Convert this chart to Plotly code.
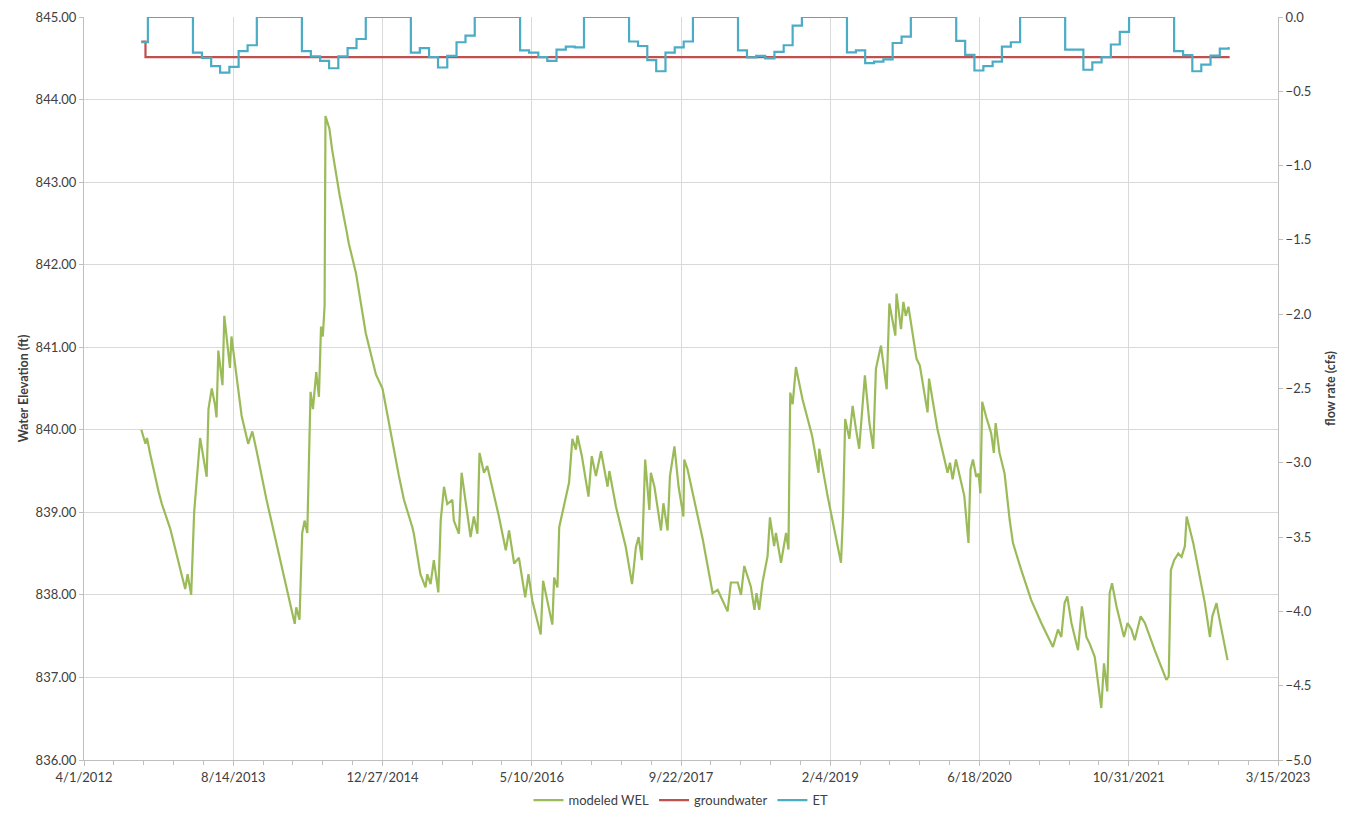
import pandas as pd
import plotly.graph_objects as go

# ---------------- data ----------------
BASE_DATE = "2012-04-01"  # day offsets below are days since this date

# modeled WEL (ft): day offset, elevation
wel_day = [192, 206, 211, 222, 250, 261, 289, 339, 347, 359,
           369, 378, 389, 411, 417, 428, 439, 444, 450, 464,
           470, 489, 494, 528, 550, 564, 578, 611, 689, 706,
           711, 722, 731, 739, 748, 759, 767, 778, 787, 794,
           800, 806, 809, 822, 831, 856, 880, 887, 911, 918,
           944, 978, 1000,
           1055, 1072, 1100, 1105, 1127, 1144, 1150, 1161, 1172, 1187,
           1195, 1206, 1217, 1234, 1239, 1256, 1265, 1279, 1295, 1306,
           1318, 1325, 1340, 1351, 1368, 1390, 1413, 1424, 1441, 1457,
           1478, 1489, 1502, 1530, 1538, 1556, 1569, 1575, 1586, 1592,
           1609, 1625, 1636, 1648, 1653, 1668, 1690, 1701, 1715, 1732,
           1754, 1760, 1782, 1815, 1836, 1849, 1858, 1869, 1880, 1894,
           1899, 1911, 1933, 1941, 1955, 1963, 1978, 1992, 2008,
           2011, 2022, 2039, 2073, 2106, 2123, 2156, 2167, 2190, 2201,
           2212, 2234, 2246, 2253, 2262, 2273, 2290, 2298, 2312, 2318,
           2335, 2352, 2360, 2366, 2374, 2385, 2407, 2439, 2461, 2463,
           2491, 2536, 2543, 2550, 2564, 2575, 2586, 2597, 2616, 2631,
           2644, 2653, 2670, 2681, 2689, 2698, 2718, 2722, 2737, 2745,
           2753, 2762, 2770, 2789, 2800, 2826, 2831, 2859, 2893, 2901,
           2910, 2921, 2949,
           2963, 2970, 2978, 2989, 2997, 3003, 3009, 3022, 3039, 3048,
           3054, 3067, 3084, 3101, 3112, 3140, 3173, 3207, 3246, 3263,
           3274, 3285, 3294, 3308, 3330, 3343, 3358, 3369, 3386, 3408,
           3417, 3428, 3436, 3444, 3459, 3484, 3496, 3509, 3520, 3540,
           3554, 3587, 3626, 3634, 3641, 3652, 3666, 3677, 3688, 3694,
           3705, 3716, 3755, 3772, 3780, 3794, 3802, 3831]
wel_ft = [840.0, 839.83, 839.9, 839.7, 839.25, 839.1, 838.8, 838.07, 838.25, 838.0,
          839.0, 839.4, 839.9, 839.43, 840.25, 840.5, 840.3, 840.15, 840.96, 840.54,
          841.38, 840.75, 841.13, 840.17, 839.83, 839.98, 839.75, 839.16, 837.95, 837.65,
          837.85, 837.7, 838.75, 838.9, 838.75, 840.46, 840.25, 840.7, 840.4, 841.25,
          841.13, 841.5, 843.8, 843.65, 843.4, 842.85, 842.4, 842.26, 841.9, 841.75,
          841.17, 840.67, 840.5,
          839.44, 839.15, 838.82, 838.74, 838.25, 838.09, 838.25, 838.13, 838.42, 838.03,
          838.9, 839.31, 839.1, 839.15, 838.9, 838.74, 839.48, 839.1, 838.7, 838.95,
          838.74, 839.72, 839.48, 839.56, 839.31, 838.95, 838.54, 838.78, 838.38, 838.45,
          837.97, 838.25, 837.93, 837.52, 838.17, 837.84, 837.64, 838.21, 838.09, 838.82,
          839.11, 839.36, 839.89, 839.76, 839.93, 839.68, 839.19, 839.68, 839.44, 839.74,
          839.31, 839.5, 839.07, 838.58, 838.13, 838.58, 838.7, 838.42, 839.64, 839.03,
          839.48, 839.31, 838.78, 839.11, 838.78, 839.44, 839.80, 839.31, 838.95,
          839.64, 839.52, 839.24, 838.67, 838.02, 838.06, 837.8, 838.15, 838.15, 838.0,
          838.35, 838.1, 837.82, 838.02, 837.82, 838.15, 838.47, 838.94, 838.59, 838.75,
          838.39, 838.75, 838.55, 840.45, 840.31, 840.76, 840.37, 839.93, 839.48, 839.77,
          839.2, 838.39, 839.0, 840.13, 839.89, 840.29, 840.01, 839.77, 840.66, 840.09,
          839.77, 840.74, 841.02, 840.74, 840.49, 841.53, 841.14, 841.65, 841.22, 841.55,
          841.38, 841.49, 841.3, 840.86, 840.78, 840.21, 840.62, 840.01, 839.48, 839.6,
          839.4, 839.64, 839.2,
          838.63, 839.52, 839.64, 839.43, 839.47, 839.23, 840.34, 840.16, 839.96, 839.72,
          840.08, 839.72, 839.47, 838.91, 838.63, 838.3, 837.94, 837.66, 837.37, 837.58,
          837.49, 837.9, 837.98, 837.66, 837.33, 837.86, 837.49, 837.41, 837.25, 836.63,
          837.17, 836.83, 838.02, 838.14, 837.86, 837.49, 837.66, 837.58, 837.45, 837.74,
          837.66, 837.33, 836.97, 837.01, 838.3, 838.42, 838.5, 838.46, 838.59, 838.95,
          838.79, 838.63, 837.9, 837.49, 837.74, 837.9, 837.74, 837.21]

# groundwater (cfs)
gw_dates = ["2012-10-10", "2012-10-24", "2022-10-04"]
gw_cfs = [-0.165, -0.27, -0.27]

# ET (cfs), monthly values
et_2012_dates = ["2012-10-10", "2012-11-01", "2012-12-01"]
et_2012 = [-0.17, 0.0, 0.0]
et_2013 = [0, 0, 0, -0.24, -0.275, -0.33, -0.375, -0.335, -0.23, -0.19, 0, 0]
et_2014 = [0, 0, 0, -0.23, -0.265, -0.295, -0.345, -0.265, -0.21, -0.148, 0, 0]
et_2015 = [0, 0, 0, -0.24, -0.21, -0.27, -0.34, -0.262, -0.17, -0.125, 0, 0]
et_2016 = [0, 0, 0, -0.225, -0.24, -0.27, -0.295, -0.22, -0.2, -0.205, 0, 0]
et_2017 = [0, 0, 0, -0.165, -0.195, -0.29, -0.365, -0.24, -0.205, -0.165, 0, 0]
et_2018 = [0, 0, 0, -0.225, -0.272, -0.262, -0.278, -0.235, -0.19, -0.058, 0, 0]
et_2019 = [0, 0, 0, -0.238, -0.225, -0.31, -0.30, -0.285, -0.175, -0.132, 0, 0]
et_2020 = [0, 0, 0, -0.16, -0.255, -0.36, -0.33, -0.30, -0.2, -0.17, 0, 0]
et_2021 = [0, 0, 0, -0.22, -0.22, -0.355, -0.305, -0.27, -0.185, -0.10, 0, 0]
et_2022 = [0, 0, 0, -0.23, -0.257, -0.365, -0.32, -0.26, -0.213, -0.21]
et_end_date = "2022-10-04"

# axis ticks
x_range = ["2012-04-01", "2023-03-15"]
x_tick0 = "2012-04-01"
x_major_days = 500
x_minor_days = 100

# ---------------- build series ----------------
base = pd.Timestamp(BASE_DATE)
wel_x = base + pd.to_timedelta(wel_day, unit="D")

et_x = list(pd.to_datetime(et_2012_dates))
et_y = list(et_2012)
for year, vals in [(2013, et_2013), (2014, et_2014), (2015, et_2015), (2016, et_2016),
                   (2017, et_2017), (2018, et_2018), (2019, et_2019), (2020, et_2020),
                   (2021, et_2021), (2022, et_2022)]:
    months = pd.date_range(f"{year}-01-01", periods=len(vals), freq="MS")
    et_x += list(months)
    et_y += list(vals)
et_x.append(pd.Timestamp(et_end_date))
et_y.append(et_y[-1])

DAY_MS = 86400000
FONT = "Lato"
TXT = "#404040"
GRID = "#D9D9D9"
AXIS = "#BFBFBF"

fig = go.Figure()
fig.add_trace(go.Scatter(x=wel_x, y=wel_ft, name="modeled WEL", mode="lines",
                         line=dict(color="#9BBB59", width=2.2)))
fig.add_trace(go.Scatter(x=pd.to_datetime(gw_dates), y=gw_cfs, name="groundwater", mode="lines",
                         line=dict(color="#C0504D", width=2.2, shape="hv"), yaxis="y2"))
fig.add_trace(go.Scatter(x=et_x, y=et_y, name="ET", mode="lines",
                         line=dict(color="#4BACC6", width=2.2, shape="hv"), yaxis="y2"))

# page body has an 8px default margin; size the figure to fill the rest of the window
fig.update_layout(
    width=1340, height=809,
    margin=dict(l=76, r=70, t=9, b=57, autoexpand=False),
    paper_bgcolor="white", plot_bgcolor="white",
    font=dict(family=FONT, size=13, color=TXT),
    showlegend=True,
    legend=dict(orientation="h", x=0.5, xanchor="center", y=-0.034, yanchor="top",
                font=dict(family=FONT, size=13, color=TXT), itemwidth=30,
                traceorder="normal"),
    xaxis=dict(
        type="date", range=x_range, tick0=x_tick0, dtick=x_major_days * DAY_MS,
        tickformat="%-m/%-d/%Y", showgrid=True, gridcolor=GRID, gridwidth=1,
        showline=True, linecolor=AXIS, linewidth=1, ticks="outside", ticklen=5,
        tickcolor=AXIS, tickfont=dict(size=13, color=TXT), zeroline=False,
        automargin=False,
        minor=dict(tick0=x_tick0, dtick=x_minor_days * DAY_MS, ticks="outside",
                   ticklen=4, tickcolor=AXIS, showgrid=False),
    ),
    yaxis=dict(
        range=[836, 845], dtick=1, tickformat=".2f", showgrid=True, gridcolor=GRID,
        gridwidth=1, showline=True, linecolor=AXIS, linewidth=1, ticks="outside",
        ticklen=4, tickcolor=AXIS, zeroline=False, tickfont=dict(size=13, color=TXT),
        automargin=False,
        title=dict(text="<b>Water Elevation (ft)</b>", font=dict(size=12.5, color=TXT), standoff=4),
    ),
    yaxis2=dict(
        range=[-5, 0], dtick=0.5, tickformat=".1f", overlaying="y", side="right",
        showgrid=False, showline=True, linecolor=AXIS, linewidth=1, ticks="outside",
        ticklen=4, tickcolor=AXIS, zeroline=False, tickfont=dict(size=13, color=TXT),
        automargin=False,
        title=dict(text="<b>flow rate (cfs)</b>", font=dict(size=12.5, color=TXT), standoff=15),
    ),
)

fig.write_html("out.html")
